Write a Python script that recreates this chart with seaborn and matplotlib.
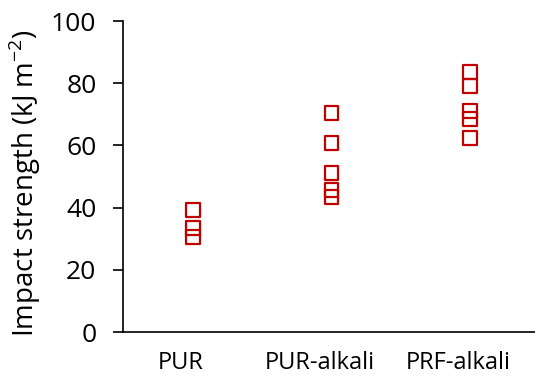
import matplotlib
matplotlib.use("Agg")
import matplotlib.pyplot as plt
import matplotlib.transforms as mtransforms
import seaborn as sns
import pandas as pd

categories = ["PUR", "PUR-alkali", "PRF-alkali"]
pur = [39.2, 33.4, 30.6]
pur_alkali = [70.5, 60.7, 51.2, 45.7, 43.3]
prf_alkali = [83.6, 79.2, 71.1, 68.5, 62.3]
y_ticks = [0, 20, 40, 60, 80, 100]

df = pd.DataFrame({
    "group": [categories[0]] * len(pur) + [categories[1]] * len(pur_alkali) + [categories[2]] * len(prf_alkali),
    "value": pur + pur_alkali + prf_alkali,
})

sns.set_style("white")
plt.rcParams["font.family"] = ["Open Sans", "DejaVu Sans"]
plt.rcParams["mathtext.fontset"] = "custom"
plt.rcParams["mathtext.rm"] = "Open Sans"

red = "#C00000"
fig = plt.figure(figsize=(5.35, 3.76), dpi=100)
ax = fig.add_axes([0.230, 0.117, 0.770, 0.827])

sns.stripplot(data=df, x="group", y="value", order=categories, jitter=False,
              marker="s", size=10, color=red, ax=ax)
for coll in ax.collections:
    coll.set_facecolor("none")
    coll.set_edgecolor(red)
    coll.set_linewidth(1.6)

ax.set_ylim(0, 100)
ax.set_xlim(-0.505, 2.47)
ax.set_yticks(y_ticks)
ax.set_xlabel("")
ax.set_ylabel(r"Impact strength (kJ m$^{\mathregular{-2}}$)", fontsize=20, color="black")
ax.yaxis.set_label_coords(-0.194, 0.478)
sns.despine(ax=ax)
for s in ["left", "bottom"]:
    ax.spines[s].set_color("black")
    ax.spines[s].set_linewidth(1.2)
ax.tick_params(axis="y", direction="out", length=7.2, width=1.2, color="black",
               labelsize=19, pad=12, left=True, labelcolor="black")
ax.tick_params(axis="x", length=0, labelsize=17, pad=14, labelcolor="black")
offset = mtransforms.ScaledTranslation(-12 / 100, 0, fig.dpi_scale_trans)
for lab in ax.get_xticklabels():
    lab.set_transform(lab.get_transform() + offset)

fig.savefig("out.png", dpi=100)
